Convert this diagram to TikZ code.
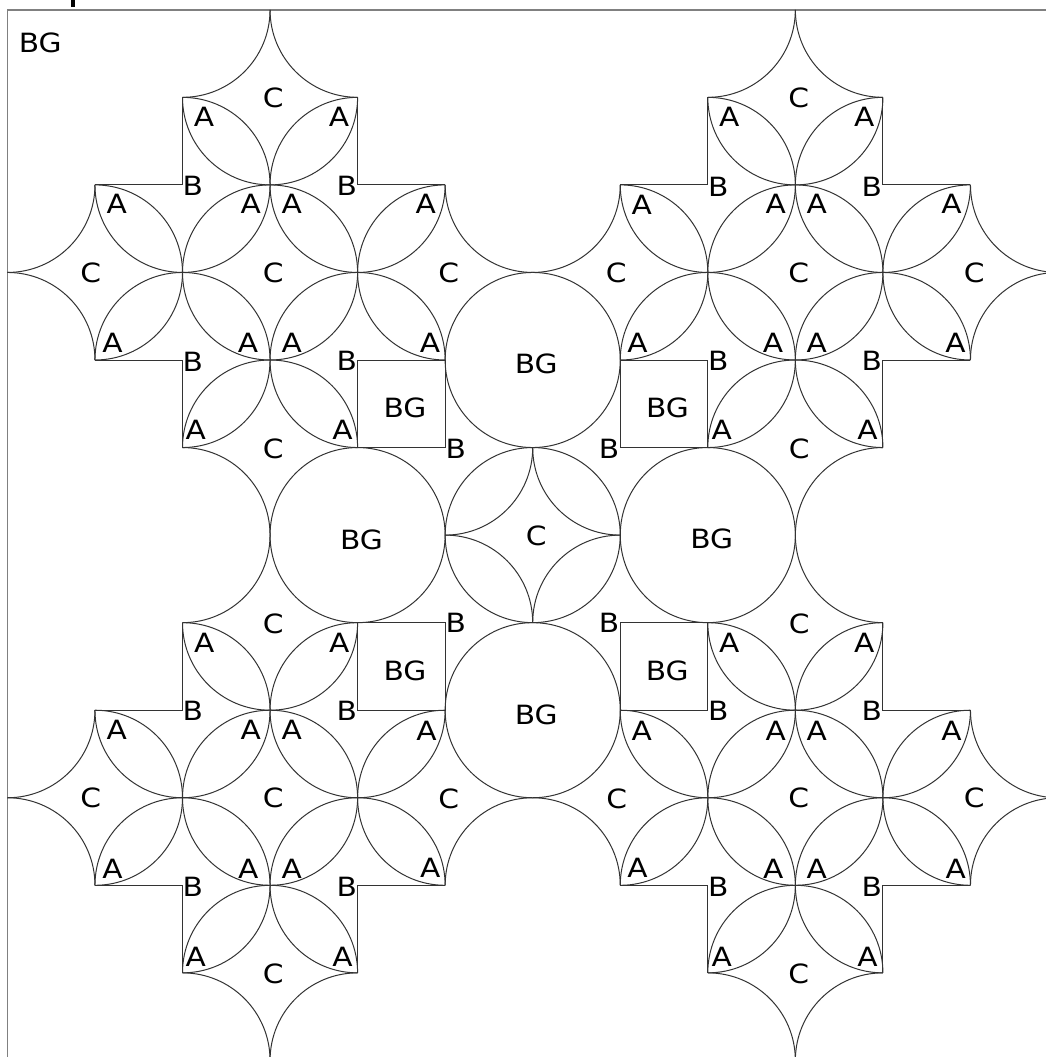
\documentclass[tikz,border=0pt]{standalone}
\usepackage{fontspec}
\newfontfamily\lblfont{DejaVu Sans}[FakeStretch=1.12]
\tikzset{
  arcline/.style={draw=black!80, line width=1pt, line join=miter},
  frameline/.style={draw=black!50, line width=1.8pt},
  lbl/.style={font=\lblfont\fontsize{26.5}{26.5}\selectfont, inner sep=0pt, anchor=center, text=black},
}
\newcounter{labc}
\newcommand\lab[3]{\stepcounter{labc}\node[lbl] (lab\arabic{labc}) at (#1,#2) {#3};}
% quarter arc of the unit circle centred (#1,#2), from (#1+#3,#2) to (#1,#2+#4)
\newcommand\qarc[4]{\draw[arcline] ({#1+(#3)},{#2}) .. controls ({#1+(#3)},{#2+0.55228*(#4)}) and ({#1+0.55228*(#3)},{#2+(#4)}) .. ({#1},{#2+(#4)});}
\newcommand\quadpart{%
  \qarc{2}{0}{1}{1}\qarc{4}{0}{-1}{1}%
  \qarc{3}{1}{-1}{1}\qarc{2}{2}{1}{-1}\qarc{3}{1}{1}{1}\qarc{4}{2}{-1}{-1}%
  \qarc{0}{2}{1}{1}\qarc{2}{2}{-1}{1}\qarc{1}{3}{1}{-1}\qarc{2}{2}{1}{1}\qarc{3}{3}{-1}{-1}%
  \qarc{4}{2}{-1}{1}\qarc{3}{3}{1}{-1}\qarc{4}{2}{1}{1}\qarc{5}{3}{-1}{-1}\qarc{6}{2}{-1}{1}%
  \qarc{0}{4}{1}{-1}\qarc{1}{3}{1}{1}\qarc{2}{4}{-1}{-1}\qarc{2}{4}{1}{-1}\qarc{3}{3}{-1}{1}%
  \qarc{3}{3}{1}{1}\qarc{4}{4}{-1}{-1}\qarc{4}{4}{1}{-1}\qarc{5}{3}{-1}{1}\qarc{6}{4}{-1}{-1}%
  \qarc{2}{4}{1}{1}\qarc{3}{5}{-1}{-1}\qarc{4}{4}{-1}{1}\qarc{3}{5}{1}{-1}\qarc{6}{4}{-1}{1}%
  \qarc{2}{6}{1}{-1}\qarc{4}{6}{-1}{-1}\qarc{4}{6}{1}{-1}\qarc{5}{5}{1}{1}\qarc{6}{6}{-1}{-1}%
  \draw[arcline] (2,1) -- (2,2) -- (1,2);
  \draw[arcline] (4,1) -- (4,2) -- (5,2);
  \draw[arcline] (1,4) -- (2,4) -- (2,5);
  \draw[arcline] (4,4) rectangle (5,5);
}
\begin{document}
\begin{tikzpicture}[x=1pt, y=-1pt]
\useasboundingbox (0,0) rectangle (1045,1057);
\fill[white] (0,0) rectangle (1045,1057);
\fill[black] (70.8,0) rectangle (75,7.3);
\draw[frameline] (7.4,9.8) rectangle (1058,1060.4);
\begin{scope}[shift={(7.4,9.8)}, scale=87.55]
  \quadpart
  \begin{scope}[shift={(12,0)}, xscale=-1]\quadpart\end{scope}
  \begin{scope}[shift={(0,12)}, yscale=-1]\quadpart\end{scope}
  \begin{scope}[shift={(12,12)}, xscale=-1, yscale=-1]\quadpart\end{scope}
\end{scope}
% top-left
\lab{40.3}{42.7}{BG}
\lab{273.3}{98.3}{C}
\lab{204}{117}{A}\lab{339}{117}{A}
\lab{192.8}{185.8}{B}\lab{346.7}{185.8}{B}
\lab{116.7}{203.8}{A}\lab{250.8}{203.8}{A}\lab{291.8}{203.8}{A}\lab{425.8}{203.8}{A}
\lab{90.8}{273.3}{C}\lab{273.3}{273.3}{C}\lab{448.8}{273.3}{C}
\lab{112.5}{343.3}{A}\lab{248}{343.3}{A}\lab{291.8}{343.3}{A}\lab{430}{343.3}{A}
\lab{192.8}{362}{B}\lab{346.7}{361.3}{B}
\lab{405}{407.8}{BG}
\lab{195.8}{430.3}{A}\lab{342.5}{430.3}{A}
\lab{273.3}{448.8}{C}
\lab{455.7}{449.2}{B}
% top-right
\lab{798.8}{97.8}{C}
\lab{729.2}{117}{A}\lab{864.2}{117}{A}
\lab{718.3}{186.5}{B}\lab{871.7}{186.5}{B}
\lab{641.8}{204.5}{A}\lab{775.8}{204.3}{A}\lab{816.7}{204.3}{A}\lab{951.5}{204.3}{A}
\lab{616.2}{273.3}{C}\lab{798.8}{273.3}{C}\lab{974.2}{273.3}{C}
\lab{637.5}{343.3}{A}\lab{773}{343.3}{A}\lab{816.7}{343.3}{A}\lab{955.5}{343.3}{A}
\lab{718.3}{360.8}{B}\lab{871.7}{360.8}{B}
\lab{667.5}{407.8}{BG}
\lab{721.7}{430}{A}\lab{867.5}{430}{A}
\lab{799.2}{448.8}{C}
\lab{609}{448.8}{B}
% centre
\lab{536.3}{363.8}{BG}
\lab{361.5}{539.5}{BG}\lab{536.2}{535.8}{C}\lab{711.7}{539.2}{BG}
\lab{536.3}{714.5}{BG}
% bottom-left
\lab{455.7}{623.3}{B}
\lab{273.3}{623.7}{C}
\lab{204.2}{642.7}{A}\lab{339.2}{642.7}{A}
\lab{405}{670.5}{BG}
\lab{192.8}{711}{B}\lab{346.7}{711}{B}
\lab{116.7}{730.3}{A}\lab{250.8}{730.3}{A}\lab{291.8}{730.3}{A}\lab{426.5}{731.2}{A}
\lab{90.8}{798.3}{C}\lab{273.3}{798.3}{C}\lab{448.8}{798.8}{C}
\lab{112.5}{869}{A}\lab{248.2}{869}{A}\lab{291.8}{869}{A}\lab{430.2}{867.7}{A}
\lab{192.8}{886.5}{B}\lab{346.7}{886.5}{B}
\lab{195.8}{956.7}{A}\lab{342.5}{956.7}{A}
\lab{273.3}{974.2}{C}
% bottom-right
\lab{609}{623.3}{B}
\lab{799.2}{623.7}{C}
\lab{729.2}{643}{A}\lab{864.2}{643}{A}
\lab{667.3}{670.5}{BG}
\lab{718.3}{711}{B}\lab{871.7}{711}{B}
\lab{641.8}{731.2}{A}\lab{775.8}{730.7}{A}\lab{816.7}{730.7}{A}\lab{951.5}{730.7}{A}
\lab{616.7}{798.8}{C}\lab{798.8}{797.8}{C}\lab{974.2}{797.8}{C}
\lab{637.5}{867.7}{A}\lab{773.2}{869}{A}\lab{816.7}{869}{A}\lab{955.8}{869}{A}
\lab{718.3}{886.5}{B}\lab{871.7}{886.5}{B}
\lab{721.8}{956.7}{A}\lab{867.5}{956.7}{A}
\lab{798.8}{974.2}{C}
\end{tikzpicture}
\end{document}
